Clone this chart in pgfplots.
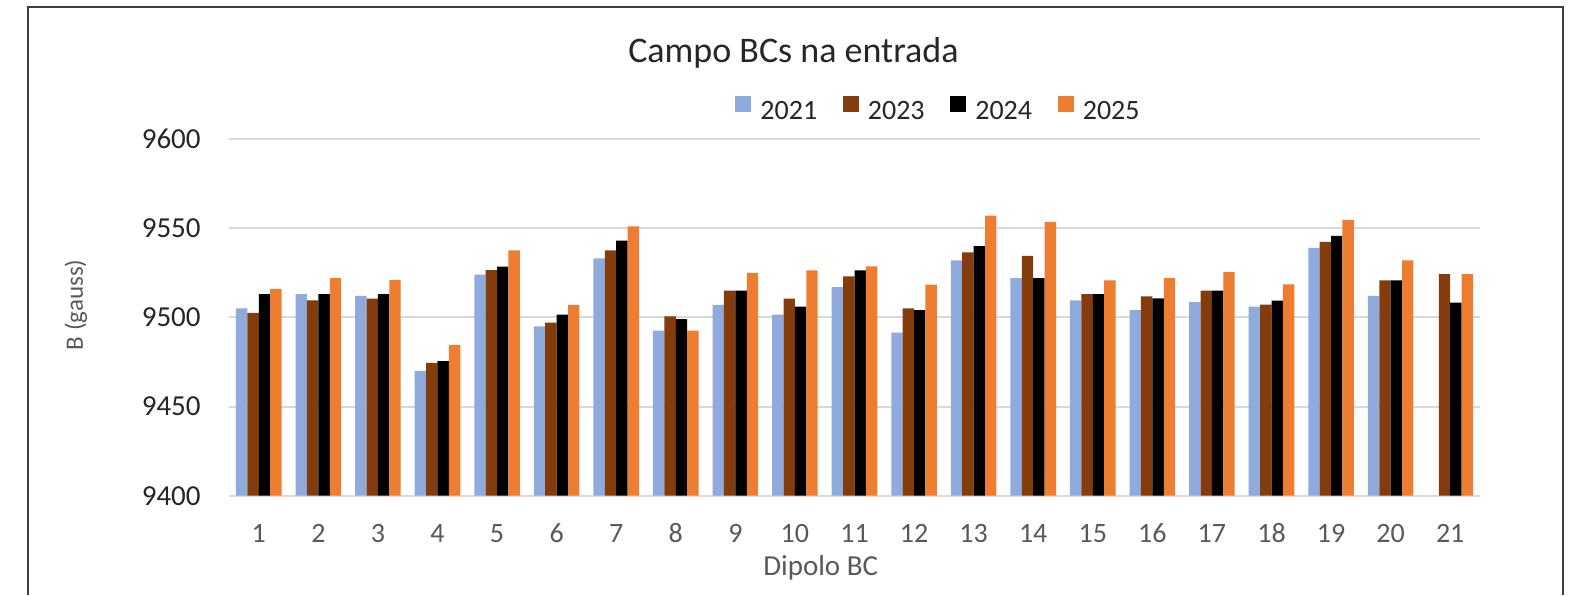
\documentclass[border=0pt]{standalone}
\usepackage{pgfplots}
\pgfplotsset{compat=1.18}
\usepackage{fontspec}
\setmainfont{Carlito}
\definecolor{c21}{HTML}{8FAADC}
\definecolor{c23}{HTML}{843C0C}
\definecolor{c24}{HTML}{000000}
\definecolor{c25}{HTML}{ED7D31}
\definecolor{gridc}{HTML}{D9D9D9}
\definecolor{txt}{HTML}{595959}
\definecolor{dark}{HTML}{262626}
\definecolor{frame}{HTML}{404040}

\begin{document}
\begin{tikzpicture}
\useasboundingbox (-114.5pt,-49.65pt) rectangle (675pt,247.85pt);
% chart frame (cut off at the bottom)
\draw[frame,line width=1pt] (-100.5pt,-49.65pt) -- (-100.5pt,244.35pt) -- (667pt,244.35pt) -- (667pt,-49.65pt);
\node[dark,font=\fontsize{18}{20}\selectfont,anchor=base] at (282.2pt,216.5pt) {Campo BCs na entrada};

\begin{axis}[
  at={(0pt,0pt)},anchor=south west,
  scale only axis,
  width=625.5pt,height=178.35pt,
  ybar=0pt,bar width=5.7pt,
  xmin=0.5,xmax=21.5,
  ymin=9400,ymax=9600,
  xtick={1,...,21},
  ytick={9400,9450,...,9600},
  axis line style={draw=none},
  major tick length=0pt,
  ymajorgrids=true,
  grid style={gridc,line width=1pt},
  /pgf/number format/assume math mode=true,
  /pgf/number format/1000 sep={},
  yticklabel style={font=\fontsize{14.5}{16}\selectfont,dark,anchor=east,inner sep=0pt,xshift=-14pt},
  xticklabel style={font=\fontsize{14}{16}\selectfont,txt,anchor=base,inner sep=0pt,yshift=-23.5pt},
  xlabel={Dipolo BC},
  xlabel style={font=\fontsize{14.5}{16}\selectfont,txt,at={(axis description cs:0.473,0)},anchor=base,inner sep=0pt,yshift=-39.65pt},
  ylabel={B (gauss)},
  ylabel style={font=\fontsize{12.5}{14}\selectfont,txt,at={(axis description cs:-0.1223,0.535)},anchor=center,rotate=0,inner sep=0pt},
  legend columns=4,
  legend style={at={(axis description cs:0.4045,1.045)},anchor=south west,draw=none,inner sep=0pt,
    font=\fontsize{14}{16}\selectfont,text=dark,
    nodes={inner sep=0pt},
    /tikz/every odd column/.append style={column sep=4.65pt},
    /tikz/every even column/.append style={column sep=12.85pt}},
  legend image code/.code={\fill[#1] (0pt,0pt) rectangle (7.85pt,8pt);},
]
\addplot[fill=c21,draw=none] coordinates {
 (1,9505) (2,9513) (3,9512) (4,9470) (5,9524) (6,9495) (7,9533) (8,9492.5)
 (9,9507) (10,9501.5) (11,9517) (12,9491.5) (13,9532) (14,9522) (15,9509.5)
 (16,9504) (17,9508.5) (18,9506) (19,9539) (20,9512)
};
\addplot[fill=c23,draw=none] coordinates {
 (1,9502.5) (2,9509.5) (3,9510.5) (4,9474.5) (5,9526.5) (6,9497) (7,9537.5) (8,9500.5)
 (9,9515) (10,9510.5) (11,9523) (12,9505) (13,9536.5) (14,9534.5) (15,9513)
 (16,9511.7) (17,9515) (18,9507.2) (19,9542.3) (20,9520.8) (21,9524.2)
};
\addplot[fill=c24,draw=none] coordinates {
 (1,9513) (2,9513) (3,9513) (4,9475.5) (5,9528.5) (6,9501.5) (7,9543) (8,9499)
 (9,9515) (10,9506) (11,9526.3) (12,9504) (13,9540) (14,9522) (15,9513)
 (16,9510.6) (17,9515) (18,9509.4) (19,9545.7) (20,9520.8) (21,9508.3)
};
\addplot[fill=c25,draw=none] coordinates {
 (1,9516) (2,9522) (3,9521) (4,9484.5) (5,9537.5) (6,9507) (7,9551) (8,9492.5)
 (9,9525) (10,9526.3) (11,9528.6) (12,9518.4) (13,9557) (14,9553.6) (15,9520.8)
 (16,9522) (17,9525.3) (18,9518.5) (19,9554.7) (20,9532) (21,9524.2)
};
\legend{2021,2023,2024,2025}
\end{axis}
\end{tikzpicture}
\end{document}
